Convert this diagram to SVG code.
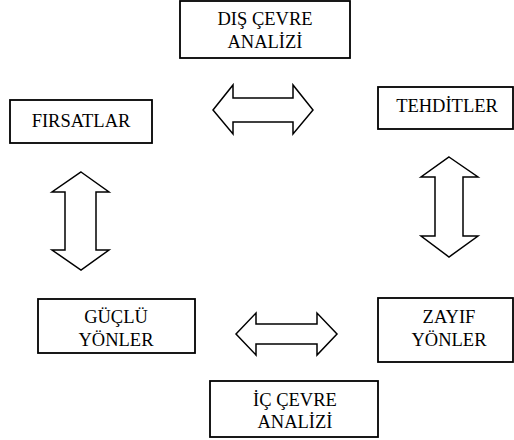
<svg xmlns="http://www.w3.org/2000/svg" width="514" height="440" viewBox="0 0 514 440">
<style>
.box{fill:#fff;stroke:#000;stroke-width:1.8}
.arr{fill:#fff;stroke:#000;stroke-width:1.5;stroke-linejoin:miter}
.t{font-family:'Liberation Serif','Times New Roman',serif;font-size:18.5px;fill:#000;text-anchor:middle}
</style>
<rect width="514" height="440" fill="#fff"/>
<g id="dis-cevre">
<rect class="box" x="180" y="1" width="170" height="57"/>
<text class="t" x="265" y="25">DIŞ ÇEVRE</text>
<text class="t" x="265" y="48">ANALİZİ</text>
</g>
<g id="firsatlar">
<rect class="box" x="10" y="100" width="142" height="43"/>
<text class="t" x="81" y="127">FIRSATLAR</text>
</g>
<g id="tehditler">
<rect class="box" x="378" y="87" width="135" height="42"/>
<text class="t" x="447" y="112">TEHDİTLER</text>
</g>
<g id="guclu">
<rect class="box" x="38" y="299" width="157" height="54"/>
<text class="t" x="116" y="323">GÜÇLÜ</text>
<text class="t" x="116" y="346">YÖNLER</text>
</g>
<g id="zayif">
<rect class="box" x="378" y="298" width="135" height="64"/>
<text class="t" x="449" y="323">ZAYIF</text>
<text class="t" x="449" y="346">YÖNLER</text>
</g>
<g id="ic-cevre">
<rect class="box" x="210" y="381" width="168" height="56"/>
<text class="t" x="295" y="406">İÇ ÇEVRE</text>
<text class="t" x="295" y="428">ANALİZİ</text>
</g>
<g id="connectors">
<polygon class="arr" points="213,110 233,85 233,98 293,98 293,85 313,110 293,134 293,122 233,122 233,134"/>
<polygon class="arr" points="236,334 256,313 256,324 317,324 317,313 337,334 317,355 317,344 256,344 256,355"/>
<polygon class="arr" points="81,172 109,192 96,192 96,250 109,250 81,270 52,250 65,250 65,192 52,192"/>
<polygon class="arr" points="449,157 478,177 463,177 463,236 478,236 449,257 421,236 435,236 435,177 421,177"/>
</g>
</svg>
